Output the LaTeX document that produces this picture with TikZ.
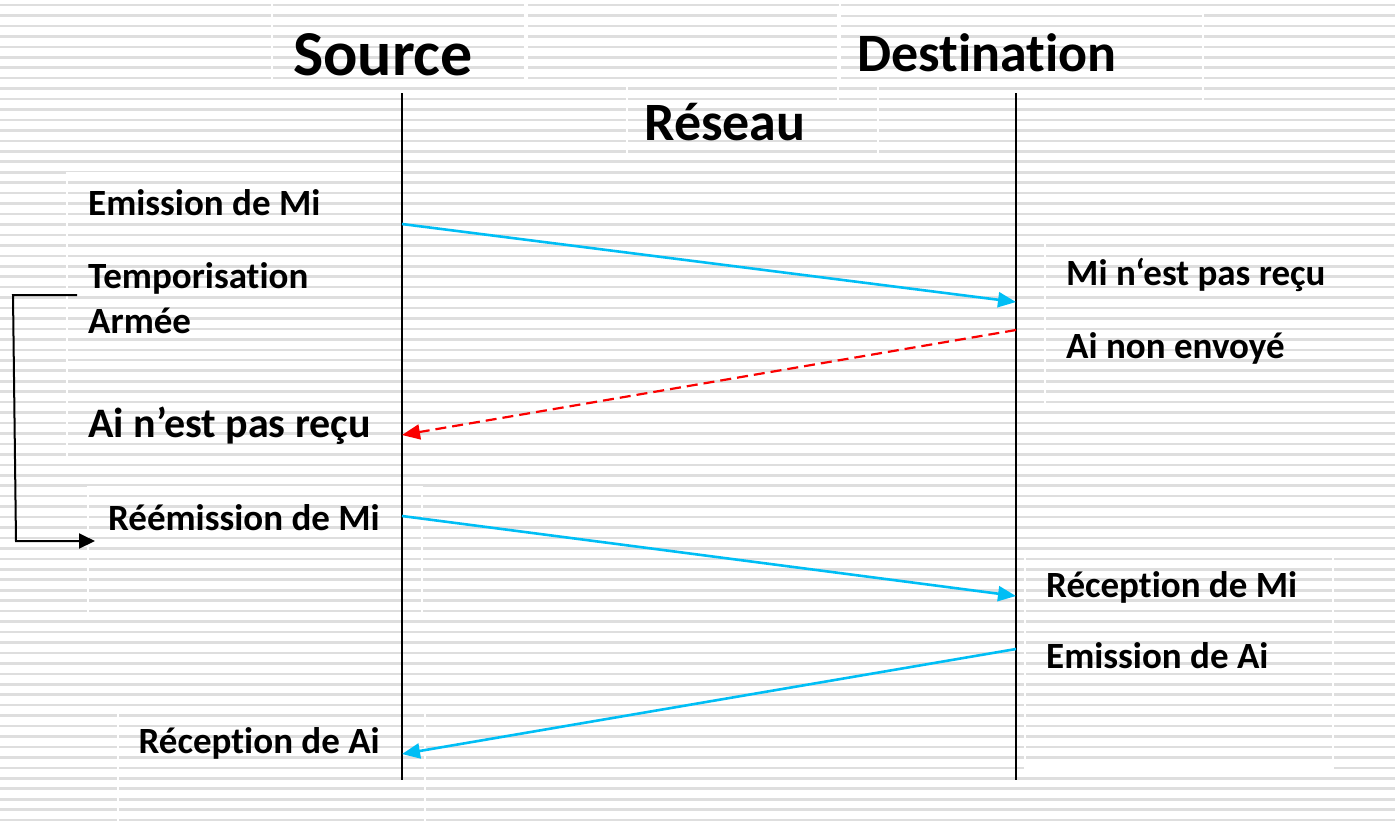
\documentclass[tikz,border=0pt]{standalone}
\usepackage{fontspec}
\setmainfont{Carlito}[Ligatures=CommonOff]
\usetikzlibrary{arrows.meta}

\definecolor{msgblue}{RGB}{0,190,245}
\definecolor{msgred}{RGB}{250,0,0}
\definecolor{stripe}{RGB}{222,222,222}

\tikzset{
  lbl/.style={inner sep=0pt, font=\bfseries\fontsize{37}{42}\selectfont},
  lblbig/.style={inner sep=0pt, font=\bfseries\fontsize{42}{48}\selectfont},
  head/.style={inner sep=0pt, font=\bfseries\fontsize{54}{60}\selectfont},
  lifeline/.style={line width=2pt, black},
  msg/.style={line width=2.6pt, msgblue, -{Triangle[length=18pt,width=15pt]}},
  lost/.style={line width=2.2pt, msgred, dash pattern=on 11pt off 6pt,
               -{Triangle[length=18pt,width=15pt]}},
  timer/.style={line width=2pt, black, -{Triangle[length=16pt,width=15pt]}},
  tbox/.style={draw=white, line width=1.3pt}
}

\begin{document}
\begin{tikzpicture}[x=1pt,y=-1pt]
  % page and striped background
  \useasboundingbox (0,0) rectangle (1395,823);
  \fill[white] (0,0) rectangle (1395,823);
  \foreach \k in {0,...,78} {
    \fill[stripe] (0,{3.7+10.45*\k}) rectangle (1395,{6.3+10.45*\k});
  }

  % text box outlines
  \draw[tbox] (272,2) rectangle (525,80);
  \draw[tbox] (527,2) rectangle (840,80);
  \draw[tbox] (838,14) rectangle (1203,102);
  \draw[tbox] (627,80) rectangle (878,157);
  \draw[tbox] (67,173) rectangle (402,362);
  \draw[tbox] (67,362) rectangle (402,460);
  \draw[tbox] (1045,241) rectangle (1395,405);
  \draw[tbox] (88,487) rectangle (422,617);
  \draw[tbox] (1025,553) rectangle (1333,768);
  \draw[tbox] (118,712) rectangle (425,823);

  % headers
  \node[head, font=\bfseries\fontsize{64}{70}\selectfont, anchor=base] (src) at (383,75) {Source};
  \node[head, anchor=base] (dst) at (987,71) {Destination};
  \node[head, anchor=base] (net) at (725,140) {Réseau};

  % lifelines
  \coordinate (sTop) at (402,93);
  \coordinate (sBot) at (402,780);
  \coordinate (dTop) at (1016,93);
  \coordinate (dBot) at (1016,780);
  \draw[lifeline] (sTop) -- (sBot);
  \draw[lifeline] (dTop) -- (dBot);

  % message end points
  \coordinate (s1) at (402,224);
  \coordinate (d1) at (1016,302);
  \coordinate (d2) at (1016,330);
  \coordinate (s2) at (402,435);
  \coordinate (s3) at (402,516);
  \coordinate (d3) at (1016,596);
  \coordinate (d4) at (1016,649);
  \coordinate (s4) at (402,754);

  \draw[msg] (s1) -- (d1);
  \draw[lost] (d2) -- (s2);
  \draw[msg] (s3) -- (d3);
  \draw[msg] (d4) -- (s4);

  % source side labels
  \node[lbl, anchor=base west] (emMi) at (88,215) {Emission de Mi};
  \node[lbl, anchor=base west] (tempo) at (88,288) {Temporisation};
  \node[lbl, anchor=base west] (armee) at (88,333) {Armée};
  \node[lblbig, anchor=base west] (aiLost) at (88,437) {Ai n’est pas reçu};
  \node[lbl, anchor=base east] (reMi) at (380,530) {Réémission de Mi};
  \node[lbl, anchor=base east] (recAi) at (380,753) {Réception de Ai};

  % destination side labels
  \node[lbl, anchor=base west] (miLost) at (1066,285) {Mi n‘est pas reçu};
  \node[lbl, anchor=base west] (aiNot) at (1066,358) {Ai non envoyé};
  \node[lbl, anchor=base west] (recMi) at (1046,597) {Réception de Mi};
  \node[lbl, anchor=base west] (emAi) at (1046,668) {Emission de Ai};

  % timer: armed, then triggers the retransmission
  \coordinate (tStart) at (77,295);
  \coordinate (tCorner) at (13,295);
  \coordinate (tEnd) at (95,541);
  \draw[timer] (tStart) -- (tCorner) -- (16,541) -- (tEnd);
\end{tikzpicture}
\end{document}
